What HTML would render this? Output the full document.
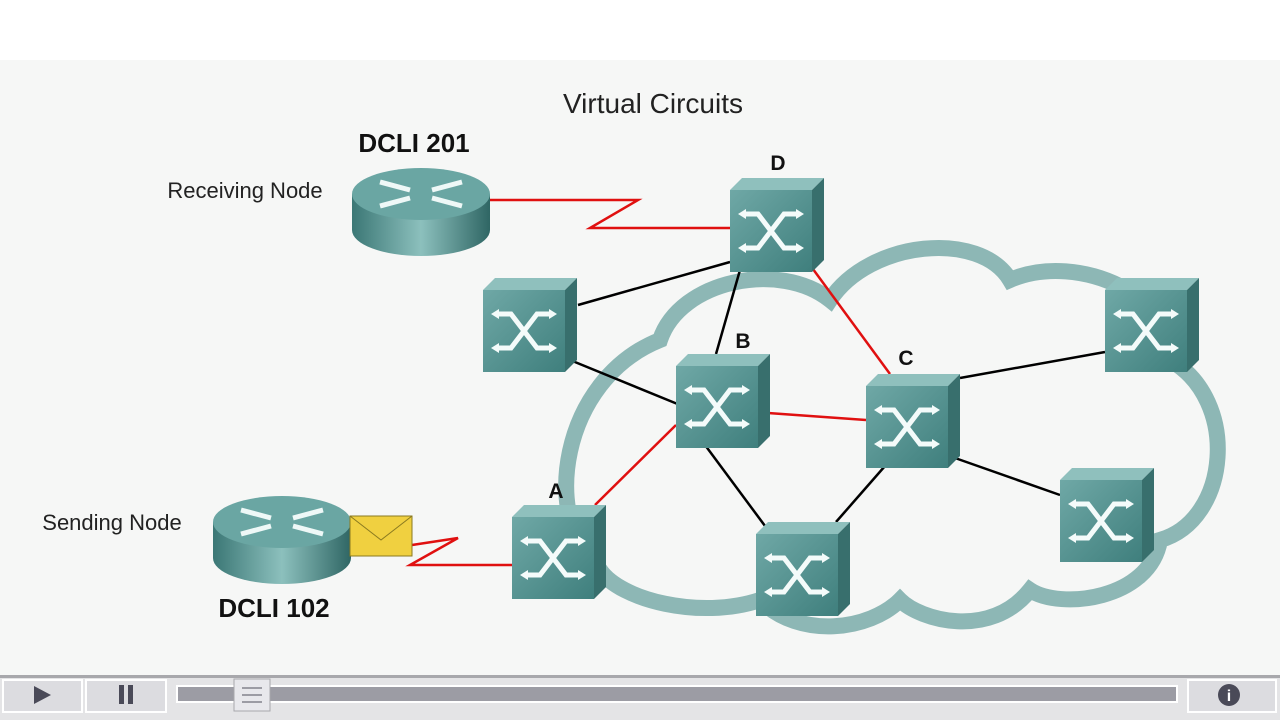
<!DOCTYPE html>
<html><head><style>
body{margin:0;width:1280px;height:720px;overflow:hidden;background:#fff;font-family:"Liberation Sans",sans-serif}
</style></head><body>
<svg width="1280" height="720" viewBox="0 0 1280 720" xmlns="http://www.w3.org/2000/svg">
<defs>
<linearGradient id="fr" x1="0" y1="0" x2="1" y2="1"><stop offset="0" stop-color="#6fa8a6"/><stop offset="1" stop-color="#3f7f7d"/></linearGradient>
<linearGradient id="rc" x1="0" y1="0" x2="1" y2="0"><stop offset="0" stop-color="#3b7775"/><stop offset="0.5" stop-color="#8cc0bd"/><stop offset="1" stop-color="#2f6664"/></linearGradient>
<g id="sw">
<polygon points="0,12 12,0 94,0 82,12" fill="#8fc0bd"/>
<polygon points="82,12 94,0 94,82 82,94" fill="#386f6d"/>
<rect x="0" y="12" width="82" height="82" fill="url(#fr)"/>
<g stroke="#f4fbfa" stroke-width="5" fill="none" stroke-linecap="round">
<path d="M14,36 H28 L54,70 H68"/>
<path d="M14,70 H28 L54,36 H68"/>
</g>
<g fill="#f4fbfa"><polygon points="8,36 16,31 16,41"/><polygon points="74,36 66,31 66,41"/><polygon points="8,70 16,65 16,75"/><polygon points="74,70 66,65 66,75"/></g>
</g>
<g id="rt">
<path d="M0,34 V70 A69,26 0 0 0 138,70 V34 Z" fill="url(#rc)"/>
<ellipse cx="69" cy="34" rx="69" ry="26" fill="#6aa6a3"/>
<g stroke="#eef8f7" stroke-width="5" fill="none">
<path d="M28,22 L58,30 M110,22 L80,30 M28,46 L58,38 M110,46 L80,38"/>
</g>
</g>
</defs>
<rect x="0" y="60" width="1280" height="615" fill="#f6f7f6"/>
<text x="653" y="113" font-size="28" text-anchor="middle" fill="#222">Virtual Circuits</text>
<path d="M600,570 C540,520 560,380 660,340 C680,280 780,260 830,300 C870,240 980,230 1010,280 C1080,250 1180,300 1170,360 C1240,400 1230,520 1160,540 C1150,600 1060,610 1030,590 C990,640 920,620 900,600 C870,630 800,640 760,600 C700,620 620,600 600,570 Z" fill="none" stroke="#8db7b5" stroke-width="16"/>
<g stroke="#000" stroke-width="2.5">
<line x1="578" y1="305" x2="730" y2="262"/><line x1="740" y1="270" x2="716" y2="354"/>
<line x1="570" y1="360" x2="680" y2="405"/><line x1="705" y1="445" x2="768" y2="530"/>
<line x1="885" y1="466" x2="836" y2="522"/><line x1="960" y1="378" x2="1105" y2="352"/>
<line x1="955" y1="458" x2="1060" y2="495"/>
</g>
<g stroke="#e01010" stroke-width="2.5" fill="none">
<line x1="810" y1="265" x2="890" y2="374"/><line x1="768" y1="413" x2="866" y2="420"/>
<line x1="595" y1="505" x2="676" y2="425"/>
<polyline points="490,200 638,200 590,228 730,228"/>
<polyline points="412,545 458,538 410,565 512,565"/>
</g>
<use href="#sw" x="730" y="178"/><use href="#sw" x="483" y="278"/><use href="#sw" x="676" y="354"/>
<use href="#sw" x="866" y="374"/><use href="#sw" x="512" y="505"/><use href="#sw" x="756" y="522"/>
<use href="#sw" x="1105" y="278"/><use href="#sw" x="1060" y="468"/>
<use href="#rt" x="352" y="160"/><use href="#rt" x="213" y="488"/>
<rect x="350" y="516" width="62" height="40" fill="#f0d040" stroke="#8a7a20"/>
<polyline points="350,516 381,540 412,516" fill="none" stroke="#8a7a20"/>
<g font-size="26" font-weight="bold" fill="#111">
<text x="414" y="152" text-anchor="middle">DCLI 201</text>
<text x="274" y="617" text-anchor="middle">DCLI 102</text>
<text x="778" y="170" text-anchor="middle" font-size="21">D</text>
<text x="743" y="348" text-anchor="middle" font-size="21">B</text>
<text x="906" y="365" text-anchor="middle" font-size="21">C</text>
<text x="556" y="498" text-anchor="middle" font-size="21">A</text>
</g>
<text x="245" y="198" font-size="22" text-anchor="middle" fill="#222">Receiving Node</text>
<text x="112" y="530" font-size="22" text-anchor="middle" fill="#222">Sending Node</text>
<rect x="0" y="675" width="1280" height="45" fill="#e4e4e6"/>
<rect x="0" y="675" width="1280" height="3" fill="#a8a8ac"/>
<rect x="3" y="680" width="79" height="32" fill="#dcdce0" stroke="#fff" stroke-width="2"/>
<rect x="86" y="680" width="80" height="32" fill="#dcdce0" stroke="#fff" stroke-width="2"/>
<polygon points="34,686 34,704 51,695" fill="#4a4a58"/>
<rect x="119" y="685" width="5" height="19" fill="#4a4a58"/><rect x="128" y="685" width="5" height="19" fill="#4a4a58"/>
<rect x="177" y="686" width="1000" height="16" fill="#9c9ca4" stroke="#fff" stroke-width="2"/>
<rect x="234" y="679" width="36" height="32" fill="#e8e8ec" stroke="#a8a8ac"/>
<g stroke="#9c9ca4" stroke-width="2"><line x1="242" y1="688" x2="262" y2="688"/><line x1="242" y1="695" x2="262" y2="695"/><line x1="242" y1="702" x2="262" y2="702"/></g>
<rect x="1188" y="680" width="88" height="32" fill="#dcdce0" stroke="#fff" stroke-width="2"/>
<circle cx="1229" cy="695" r="11" fill="#4a4a58"/>
<text x="1229" y="701" font-size="16" font-weight="bold" fill="#fff" text-anchor="middle">i</text>
</svg>
</body></html>
